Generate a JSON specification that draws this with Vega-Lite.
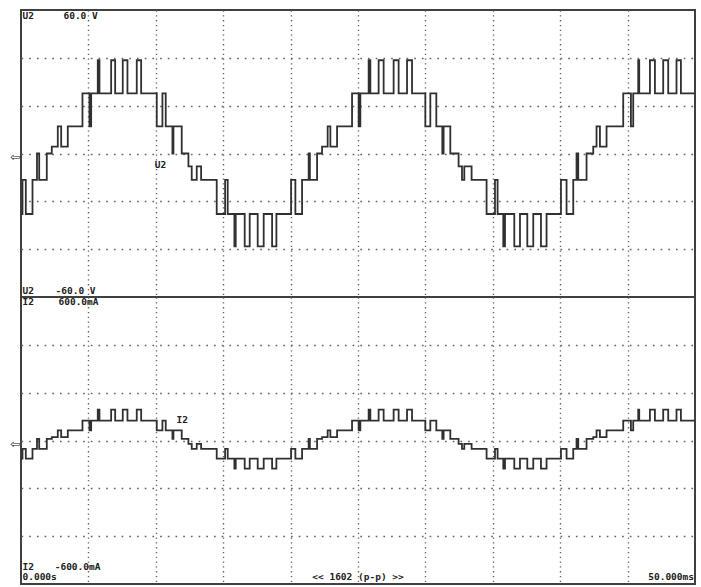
{
  "$schema": "https://vega.github.io/schema/vega-lite/v6.json",
  "padding": {"left": 8, "top": 9, "right": 7, "bottom": 4},
  "background": "white",
  "spacing": 0,
  "bounds": "flush",
  "config": {
    "view": {"stroke": "#404040", "strokeWidth": 2},
    "axis": {"labels": false, "ticks": false, "domain": false, "title": null, "grid": true, "gridColor": "#666666", "gridWidth": 1.4},
    "axisX": {"gridDash": [1.3, 3.5]},
    "axisY": {"gridDash": [1.7, 6.0]},
    "text": {"font": "DejaVu Sans Mono", "fontWeight": "bold", "fontSize": 9.5, "fill": "#222222", "align": "left", "baseline": "middle"}
  },
  "datasets": {
    "u2": [
      {"t": 0.000, "v": -25.3}, {"t": 0.111, "v": -11.0}, {"t": 0.356, "v": -25.3}, {"t": 0.853, "v": -11.0},
      {"t": 1.186, "v": 0.0}, {"t": 1.350, "v": -11.0}, {"t": 1.913, "v": 0.0}, {"t": 2.284, "v": 2.9},
      {"t": 2.729, "v": 11.3}, {"t": 2.981, "v": 2.9}, {"t": 3.470, "v": 11.3}, {"t": 4.560, "v": 25.1},
      {"t": 5.079, "v": 11.3}, {"t": 5.205, "v": 25.1}, {"t": 5.695, "v": 39.0}, {"t": 5.821, "v": 25.1},
      {"t": 6.688, "v": 39.0}, {"t": 6.985, "v": 25.1}, {"t": 7.548, "v": 39.0}, {"t": 7.897, "v": 25.1},
      {"t": 8.587, "v": 39.0}, {"t": 8.913, "v": 25.1}, {"t": 10.070, "v": 11.3}, {"t": 10.492, "v": 25.1},
      {"t": 10.737, "v": 11.3}, {"t": 11.234, "v": 0.0}, {"t": 11.308, "v": 11.3}, {"t": 11.923, "v": 0.0},
      {"t": 12.420, "v": -5.4}, {"t": 12.665, "v": -11.0}, {"t": 13.036, "v": -5.4}, {"t": 13.362, "v": -11.0},
      {"t": 14.519, "v": -25.3}, {"t": 15.142, "v": -11.0}, {"t": 15.334, "v": -25.3}, {"t": 15.831, "v": -38.8},
      {"t": 15.928, "v": -25.3}, {"t": 16.595, "v": -38.8}, {"t": 16.966, "v": -25.3}, {"t": 17.559, "v": -38.8},
      {"t": 18.004, "v": -25.3}, {"t": 18.627, "v": -38.8}, {"t": 18.946, "v": -25.3}, {"t": 20.035, "v": -11.0},
      {"t": 20.354, "v": -25.3}, {"t": 20.851, "v": -11.0}, {"t": 21.341, "v": 0.0}, {"t": 21.430, "v": -11.0},
      {"t": 21.964, "v": 0.0}, {"t": 22.334, "v": 2.9}, {"t": 22.749, "v": 11.3}, {"t": 22.950, "v": 2.9},
      {"t": 23.447, "v": 11.3}, {"t": 24.559, "v": 25.1}, {"t": 25.048, "v": 11.3}, {"t": 25.174, "v": 25.1},
      {"t": 25.790, "v": 39.0}, {"t": 25.916, "v": 25.1}, {"t": 26.531, "v": 39.0}, {"t": 26.902, "v": 25.1},
      {"t": 27.643, "v": 39.0}, {"t": 28.014, "v": 25.1}, {"t": 28.637, "v": 39.0}, {"t": 29.008, "v": 25.1},
      {"t": 29.994, "v": 11.3}, {"t": 30.365, "v": 25.1}, {"t": 30.810, "v": 11.3}, {"t": 31.255, "v": 0.0},
      {"t": 31.351, "v": 11.3}, {"t": 31.848, "v": 0.0}, {"t": 32.463, "v": -5.4}, {"t": 32.715, "v": -11.0},
      {"t": 32.886, "v": -5.4}, {"t": 33.427, "v": -11.0}, {"t": 34.539, "v": -25.3}, {"t": 35.162, "v": -11.0},
      {"t": 35.355, "v": -25.3}, {"t": 35.778, "v": -38.8}, {"t": 35.904, "v": -25.3}, {"t": 36.594, "v": -38.8},
      {"t": 37.016, "v": -25.3}, {"t": 37.560, "v": -38.8}, {"t": 38.002, "v": -25.3}, {"t": 38.573, "v": -38.8},
      {"t": 38.988, "v": -25.3}, {"t": 40.057, "v": -11.0}, {"t": 40.472, "v": -25.3}, {"t": 40.968, "v": -11.0},
      {"t": 41.213, "v": 0.0}, {"t": 41.339, "v": -11.0}, {"t": 41.955, "v": 0.0}, {"t": 42.451, "v": 2.9},
      {"t": 42.696, "v": 11.3}, {"t": 42.948, "v": 2.9}, {"t": 43.438, "v": 11.3}, {"t": 44.676, "v": 25.1},
      {"t": 45.247, "v": 11.3}, {"t": 45.417, "v": 25.1}, {"t": 45.788, "v": 39.0}, {"t": 45.862, "v": 25.1},
      {"t": 46.656, "v": 39.0}, {"t": 47.027, "v": 25.1}, {"t": 47.642, "v": 39.0}, {"t": 48.013, "v": 25.1},
      {"t": 48.628, "v": 39.0}, {"t": 48.955, "v": 25.1}, {"t": 50.000, "v": 25.1}
    ],
    "i2": [
      {"t": 0.000, "i": -76}, {"t": 0.111, "i": -35}, {"t": 0.356, "i": -76}, {"t": 0.853, "i": -35},
      {"t": 1.186, "i": 7}, {"t": 1.350, "i": -35}, {"t": 1.913, "i": 7}, {"t": 2.284, "i": 14},
      {"t": 2.729, "i": 42}, {"t": 2.981, "i": 14}, {"t": 3.470, "i": 42}, {"t": 4.560, "i": 83},
      {"t": 5.079, "i": 42}, {"t": 5.205, "i": 83}, {"t": 5.695, "i": 129}, {"t": 5.821, "i": 83},
      {"t": 6.688, "i": 129}, {"t": 6.985, "i": 83}, {"t": 7.548, "i": 129}, {"t": 7.897, "i": 83},
      {"t": 8.587, "i": 129}, {"t": 8.913, "i": 83}, {"t": 10.070, "i": 42}, {"t": 10.492, "i": 83},
      {"t": 10.737, "i": 42}, {"t": 11.234, "i": 7}, {"t": 11.308, "i": 42}, {"t": 11.923, "i": 7},
      {"t": 12.420, "i": -14}, {"t": 12.665, "i": -35}, {"t": 13.036, "i": -14}, {"t": 13.362, "i": -35},
      {"t": 14.519, "i": -76}, {"t": 15.142, "i": -35}, {"t": 15.334, "i": -76}, {"t": 15.831, "i": -118},
      {"t": 15.928, "i": -76}, {"t": 16.595, "i": -118}, {"t": 16.966, "i": -76}, {"t": 17.559, "i": -118},
      {"t": 18.004, "i": -76}, {"t": 18.627, "i": -118}, {"t": 18.946, "i": -76}, {"t": 20.035, "i": -35},
      {"t": 20.354, "i": -76}, {"t": 20.851, "i": -35}, {"t": 21.341, "i": 7}, {"t": 21.430, "i": -35},
      {"t": 21.964, "i": 7}, {"t": 22.334, "i": 14}, {"t": 22.749, "i": 42}, {"t": 22.950, "i": 14},
      {"t": 23.447, "i": 42}, {"t": 24.559, "i": 83}, {"t": 25.048, "i": 42}, {"t": 25.174, "i": 83},
      {"t": 25.790, "i": 129}, {"t": 25.916, "i": 83}, {"t": 26.531, "i": 129}, {"t": 26.902, "i": 83},
      {"t": 27.643, "i": 129}, {"t": 28.014, "i": 83}, {"t": 28.637, "i": 129}, {"t": 29.008, "i": 83},
      {"t": 29.994, "i": 42}, {"t": 30.365, "i": 83}, {"t": 30.810, "i": 42}, {"t": 31.255, "i": 7},
      {"t": 31.351, "i": 42}, {"t": 31.848, "i": 7}, {"t": 32.463, "i": -14}, {"t": 32.715, "i": -35},
      {"t": 32.886, "i": -14}, {"t": 33.427, "i": -35}, {"t": 34.539, "i": -76}, {"t": 35.162, "i": -35},
      {"t": 35.355, "i": -76}, {"t": 35.778, "i": -118}, {"t": 35.904, "i": -76}, {"t": 36.594, "i": -118},
      {"t": 37.016, "i": -76}, {"t": 37.560, "i": -118}, {"t": 38.002, "i": -76}, {"t": 38.573, "i": -118},
      {"t": 38.988, "i": -76}, {"t": 40.057, "i": -35}, {"t": 40.472, "i": -76}, {"t": 40.968, "i": -35},
      {"t": 41.213, "i": 7}, {"t": 41.339, "i": -35}, {"t": 41.955, "i": 7}, {"t": 42.451, "i": 14},
      {"t": 42.696, "i": 42}, {"t": 42.948, "i": 14}, {"t": 43.438, "i": 42}, {"t": 44.676, "i": 83},
      {"t": 45.247, "i": 42}, {"t": 45.417, "i": 83}, {"t": 45.788, "i": 129}, {"t": 45.862, "i": 83},
      {"t": 46.656, "i": 129}, {"t": 47.027, "i": 83}, {"t": 47.642, "i": 129}, {"t": 48.013, "i": 83},
      {"t": 48.628, "i": 129}, {"t": 48.955, "i": 83}, {"t": 50.000, "i": 83}
    ],
    "u2lab": [
      {"t": 0.11, "v": 57.3, "s": "U2"},
      {"t": 3.15, "v": 57.3, "s": "60.0 V"},
      {"t": 0.11, "v": -57.3, "s": "U2"},
      {"t": 2.56, "v": -57.3, "s": "-60.0 V"},
      {"t": 9.92, "v": -4.6, "s": "U2"}
    ],
    "i2lab": [
      {"t": 0.11, "i": 580, "s": "I2"},
      {"t": 2.78, "i": 580, "s": "600.0mA"},
      {"t": 0.11, "i": -529, "s": "I2"},
      {"t": 2.5, "i": -529, "s": "-600.0mA"},
      {"t": 0.11, "i": -571, "s": "0.000s"},
      {"t": 11.53, "i": 87.5, "s": "I2"}
    ]
  },
  "vconcat": [
    {
      "width": 674,
      "height": 287,
      "layer": [
        {
          "data": {"name": "u2"},
          "mark": {"type": "line", "interpolate": "step-after", "color": "#303030", "strokeWidth": 1.8},
          "encoding": {
            "x": {"field": "t", "type": "quantitative", "scale": {"domain": [0, 50], "nice": false, "zero": false}, "axis": {"values": [5, 10, 15, 20, 25, 30, 35, 40, 45]}},
            "y": {"field": "v", "type": "quantitative", "scale": {"domain": [-60, 60], "nice": false, "zero": false}, "axis": {"values": [-40, -20, 0, 20, 40]}}
          }
        },
        {
          "data": {"name": "u2lab"},
          "mark": {"type": "text"},
          "encoding": {
            "x": {"field": "t", "type": "quantitative", "scale": {"domain": [0, 50], "nice": false, "zero": false}, "axis": {"values": [5, 10, 15, 20, 25, 30, 35, 40, 45]}},
            "y": {"field": "v", "type": "quantitative", "scale": {"domain": [-60, 60], "nice": false, "zero": false}, "axis": {"values": [-40, -20, 0, 20, 40]}},
            "text": {"field": "s"}
          }
        },
        {
          "data": {"values": [{"t": 0, "v": 0, "s": "⇦"}]},
          "mark": {"type": "text", "font": "DejaVu Sans", "fontWeight": "normal", "fontSize": 12, "align": "center", "dx": -6, "dy": 3, "clip": false},
          "encoding": {
            "x": {"field": "t", "type": "quantitative", "scale": {"domain": [0, 50], "nice": false, "zero": false}, "axis": {"values": [5, 10, 15, 20, 25, 30, 35, 40, 45]}},
            "y": {"field": "v", "type": "quantitative", "scale": {"domain": [-60, 60], "nice": false, "zero": false}, "axis": {"values": [-40, -20, 0, 20, 40]}},
            "text": {"field": "s"}
          }
        }
      ]
    },
    {
      "width": 674,
      "height": 287,
      "layer": [
        {
          "data": {"name": "i2"},
          "mark": {"type": "line", "interpolate": "step-after", "color": "#303030", "strokeWidth": 1.8},
          "encoding": {
            "x": {"field": "t", "type": "quantitative", "scale": {"domain": [0, 50], "nice": false, "zero": false}, "axis": {"values": [5, 10, 15, 20, 25, 30, 35, 40, 45]}},
            "y": {"field": "i", "type": "quantitative", "scale": {"domain": [-600, 600], "nice": false, "zero": false}, "axis": {"values": [-400, -200, 0, 200, 400]}}
          }
        },
        {
          "data": {"name": "i2lab"},
          "mark": {"type": "text"},
          "encoding": {
            "x": {"field": "t", "type": "quantitative", "scale": {"domain": [0, 50], "nice": false, "zero": false}, "axis": {"values": [5, 10, 15, 20, 25, 30, 35, 40, 45]}},
            "y": {"field": "i", "type": "quantitative", "scale": {"domain": [-600, 600], "nice": false, "zero": false}, "axis": {"values": [-400, -200, 0, 200, 400]}},
            "text": {"field": "s"}
          }
        },
        {
          "data": {"values": [{"t": 25, "i": -571, "s": "<< 1602 (p-p) >>"}]},
          "mark": {"type": "text", "align": "center"},
          "encoding": {
            "x": {"field": "t", "type": "quantitative", "scale": {"domain": [0, 50], "nice": false, "zero": false}, "axis": {"values": [5, 10, 15, 20, 25, 30, 35, 40, 45]}},
            "y": {"field": "i", "type": "quantitative", "scale": {"domain": [-600, 600], "nice": false, "zero": false}, "axis": {"values": [-400, -200, 0, 200, 400]}},
            "text": {"field": "s"}
          }
        },
        {
          "data": {"values": [{"t": 50, "i": -571, "s": "50.000ms"}]},
          "mark": {"type": "text", "align": "right", "dx": -1},
          "encoding": {
            "x": {"field": "t", "type": "quantitative", "scale": {"domain": [0, 50], "nice": false, "zero": false}, "axis": {"values": [5, 10, 15, 20, 25, 30, 35, 40, 45]}},
            "y": {"field": "i", "type": "quantitative", "scale": {"domain": [-600, 600], "nice": false, "zero": false}, "axis": {"values": [-400, -200, 0, 200, 400]}},
            "text": {"field": "s"}
          }
        },
        {
          "data": {"values": [{"t": 0, "i": 0, "s": "⇦"}]},
          "mark": {"type": "text", "font": "DejaVu Sans", "fontWeight": "normal", "fontSize": 12, "align": "center", "dx": -6, "dy": 3, "clip": false},
          "encoding": {
            "x": {"field": "t", "type": "quantitative", "scale": {"domain": [0, 50], "nice": false, "zero": false}, "axis": {"values": [5, 10, 15, 20, 25, 30, 35, 40, 45]}},
            "y": {"field": "i", "type": "quantitative", "scale": {"domain": [-600, 600], "nice": false, "zero": false}, "axis": {"values": [-400, -200, 0, 200, 400]}},
            "text": {"field": "s"}
          }
        }
      ]
    }
  ]
}
